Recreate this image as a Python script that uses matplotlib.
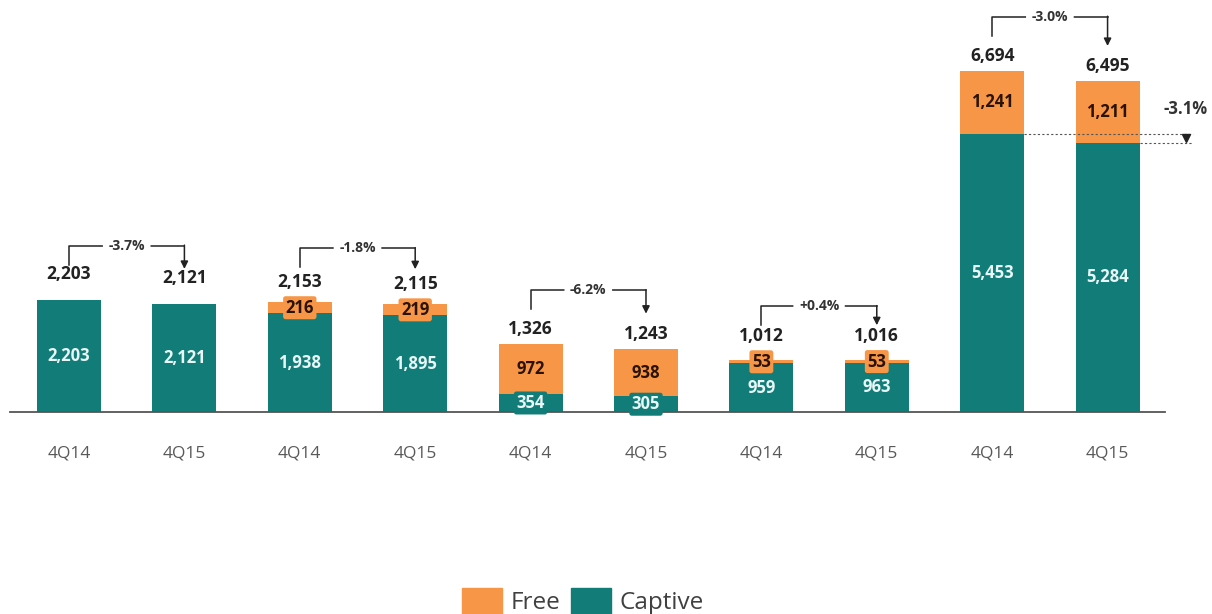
import matplotlib.pyplot as plt
from matplotlib.patches import Patch

plt.rcParams['font.family'] = ['Open Sans', 'DejaVu Sans']

# energy consumption by segment, captive vs free market
periods = ['4Q14', '4Q15'] * 5
captive = [2203, 2121, 1938, 1895, 354, 305, 959, 963, 5453, 5284]
free = [0, 0, 216, 219, 972, 938, 53, 53, 1241, 1211]
totals = [2203, 2121, 2153, 2115, 1326, 1243, 1012, 1016, 6694, 6495]
pair_change = ['-3.7%', '-1.8%', '-6.2%', '+0.4%', '-3.0%']
captive_change = '-3.1%'

orange = '#F79646'
teal = '#127D78'

fig = plt.figure(figsize=(12.12, 6.14), dpi=100)
ax = fig.add_axes([0, 0, 1, 1])
ax.axis('off')

S = 19.62   # data units per pixel on the value axis
ax.set_xlim(-0.598, 9.905)
ax.set_ylim(-202 * S, 412 * S)

x = list(range(len(periods)))
w = 0.555
ax.bar(x, captive, width=w, color=teal, zorder=2)
ax.bar(x, free, width=w, bottom=captive, color=orange, zorder=2)
ax.plot([-0.511, 9.497], [0, 0], color='#555555', lw=1.3, zorder=3)

for i in x:
    ax.text(i, captive[i] / 2, f'{captive[i]:,}', ha='center', va='center',
            fontsize=12, fontweight='bold', color='#E8F6F5', zorder=4,
            bbox=dict(boxstyle='round,pad=0.15', fc=teal, ec='none'))
    if free[i]:
        ax.text(i, captive[i] + free[i] / 2, f'{free[i]:,}', ha='center', va='center',
                fontsize=12, fontweight='bold', color='#2A1200', zorder=4,
                bbox=dict(boxstyle='round,pad=0.15', fc=orange, ec='none'))
    # total sits above the bar, and clear of a small free-segment label
    y_tot = max(totals[i] + 15 * S, captive[i] + free[i] / 2 + 26 * S)
    ax.text(i, y_tot, f'{totals[i]:,}', ha='center', va='center',
            fontsize=12.5, fontweight='bold', color='#222222')
    ax.text(i, -41 * S, periods[i], ha='center', va='center',
            fontsize=12.5, color='#595959')

# change brackets between each 4Q14 / 4Q15 pair
for k, lab in enumerate(pair_change):
    i, j = 2 * k, 2 * k + 1
    y_left = totals[i] + 35 * S
    y_tip = totals[j] + 35 * S
    y_top = max(totals[i], totals[j]) + 54 * S
    ax.plot([i, i, j], [y_left, y_top, y_top], color='#222222', lw=1.1)
    ax.annotate('', xy=(j, y_tip), xytext=(j, y_top + 0.6 * S),
                arrowprops=dict(arrowstyle='-|>', color='#222222', lw=1.1,
                                mutation_scale=11, shrinkA=0, shrinkB=0))
    ax.text((i + j) / 2, y_top, lab, ha='center', va='center', fontsize=10,
            fontweight='bold', color='#333333',
            bbox=dict(boxstyle='round,pad=0.4', fc='white', ec='none'))

# captive change on the last pair
xe = 9.74
ax.plot([8 + w / 2, xe], [captive[8], captive[8]], color='#555555', lw=0.8,
        dashes=(2, 2))
ax.plot([9 + w / 2, xe], [captive[9], captive[9]], color='#555555', lw=0.8,
        dashes=(2, 2))
ax.plot([9.68], [(captive[8] + captive[9]) / 2], marker='v', markersize=6,
        color='#222222', linestyle='none')
ax.text(9.672, captive[8] + 25 * S, captive_change, ha='center', va='center',
        fontsize=12, fontweight='bold', color='#333333',
        bbox=dict(boxstyle='round,pad=0.3', fc='white', ec='none'))

fig.legend(handles=[Patch(color=orange, label='Free'), Patch(color=teal, label='Captive')],
           loc='lower center', ncol=2, frameon=False, fontsize=17.5,
           bbox_to_anchor=(0.481, -0.038), handlelength=1.65, handleheight=1.3,
           handletextpad=0.35, columnspacing=0.45, labelcolor='#404040')

fig.savefig('out.png', dpi=100)
